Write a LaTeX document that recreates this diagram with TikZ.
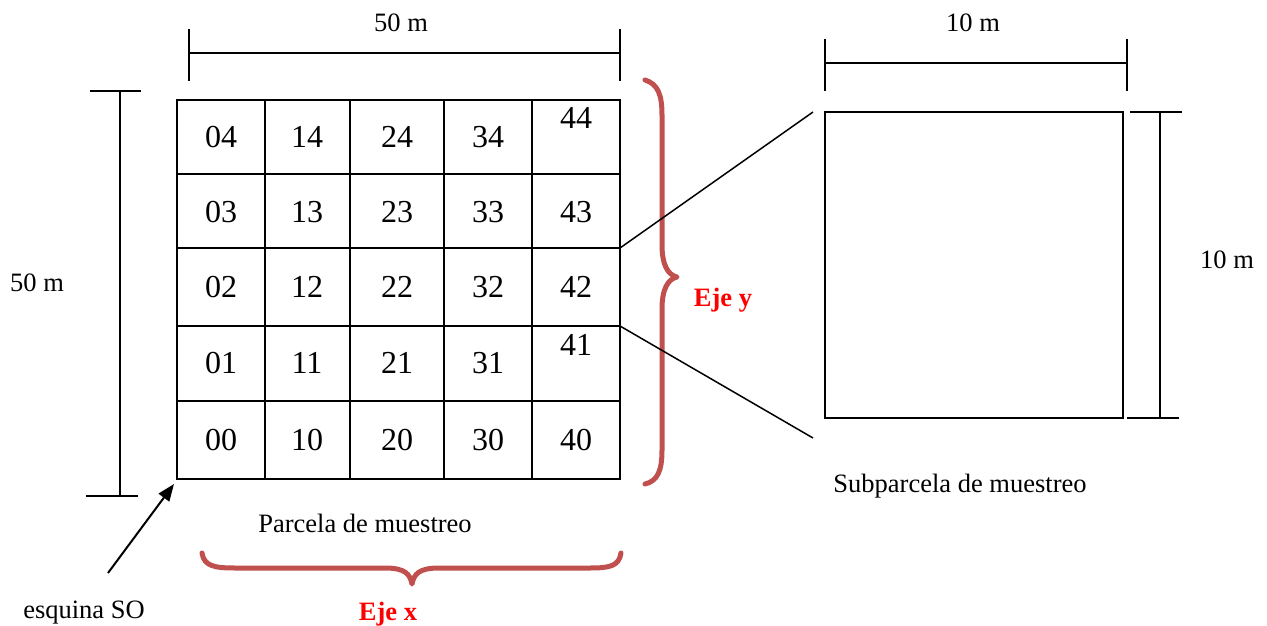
\documentclass[tikz,border=0pt]{standalone}
\usepackage{fontspec}
\setmainfont{Liberation Serif}
\usetikzlibrary{arrows.meta}
\definecolor{bracered}{RGB}{192,80,77}
\begin{document}
\begin{tikzpicture}[x=1pt,y=-1pt,
  gridline/.style={line width=2pt},
  dimline/.style={line width=1.5pt},
  num/.style={font=\fontsize{32}{36}\selectfont, inner sep=0pt, anchor=center},
  lbl/.style={font=\fontsize{26.5}{30}\selectfont, inner sep=0pt, anchor=base},
  axislbl/.style={font=\fontsize{26.5}{30}\selectfont\bfseries, text=red, inner sep=0pt, anchor=base},
  bracepath/.style={draw=bracered, line width=5pt, line cap=round, line join=round},
  zoomline/.style={line width=1.5pt}]
\useasboundingbox (0,0) rectangle (1267,626);

% ---- main plot grid ----
\coordinate (gsw) at (177,479);
\coordinate (gne) at (620,100);
\coordinate (z1) at (620,248);
\coordinate (z2) at (620,326);
\draw[gridline, line join=miter] (gsw) rectangle (gne);
\foreach \x in {265,350,444,532} \draw[gridline] (\x,100) -- (\x,479);
\foreach \y in {174,248,326,401} \draw[gridline] (177,\y) -- (620,\y);

% numbers
\foreach \i/\x in {0/221,1/307,2/397,3/488}
  \foreach \j/\y in {4/137,3/212,2/287,1/363,0/440}
    \node[num] (n\i\j) at (\x,\y) {\i\j};
\node[num] (n44) at (576,118) {44};
\node[num] (n43) at (576,212) {43};
\node[num] (n42) at (576,287) {42};
\node[num] (n41) at (576,345) {41};
\node[num] (n40) at (576,440) {40};

% ---- dimension 50 m top ----
\coordinate (dt1) at (189,53);
\coordinate (dt2) at (620,53);
\draw[dimline] (dt1) -- (dt2);
\draw[dimline] (189,29) -- (189,81);
\draw[dimline] (620,29) -- (620,81);
\node[lbl] (lt) at (401,32) {50 m};

% ---- dimension 50 m left ----
\coordinate (dl1) at (120,91);
\coordinate (dl2) at (120,496);
\draw[dimline] (dl1) -- (dl2);
\draw[dimline] (90,91) -- (141,91);
\draw[dimline] (86,496) -- (138,496);
\node[lbl] (ll) at (37,291) {50 m};

% ---- labels ----
\node[lbl] (parcela) at (365,532) {Parcela de muestreo};
\node[lbl] (esquina) at (84,618) {esquina SO};
\node[axislbl] (ejex) at (388,620) {Eje x};
\node[axislbl] (ejey) at (723,306) {Eje y};

% arrow to SW corner
\coordinate (astart) at (108,573);
\coordinate (atip) at (174,484);
\draw[line width=2pt, -{Triangle[length=17pt,width=13pt]}] (astart) -- (atip);

% ---- braces ----
\draw[bracepath] (202,553) .. controls (204,566) and (214,568) .. (235,568) -- (385,568)
  .. controls (405,568) and (410,574) .. (412,584)
  .. controls (414,574) and (419,568) .. (439,568) -- (590,568)
  .. controls (610,568) and (619,566) .. (621,553);
\draw[bracepath] (645,80) .. controls (658,84) and (662,95) .. (662,115) -- (662,245)
  .. controls (662,265) and (668,275) .. (677,277)
  .. controls (668,279) and (662,289) .. (662,309) -- (662,450)
  .. controls (662,470) and (658,481) .. (645,484);

% ---- subplot ----
\coordinate (ssw) at (825,418);
\coordinate (sne) at (1123,112);
\draw[gridline, line join=miter] (ssw) rectangle (sne);
\coordinate (s1) at (813,112);
\coordinate (s2) at (813,438);
\draw[zoomline] (z1) -- (s1);
\draw[zoomline] (z2) -- (s2);

% subplot top dimension
\draw[dimline] (825,63) -- (1127,63);
\draw[dimline] (825,39) -- (825,91);
\draw[dimline] (1127,39) -- (1127,91);
\node[lbl] (st) at (973,32) {10 m};

% subplot right dimension
\draw[dimline] (1160,112) -- (1160,418);
\draw[dimline] (1130,112) -- (1182,112);
\draw[dimline] (1127,418) -- (1179,418);
\node[lbl] (sr) at (1227,268) {10 m};

\node[lbl] (sub) at (960,492) {Subparcela de muestreo};
\end{tikzpicture}
\end{document}
